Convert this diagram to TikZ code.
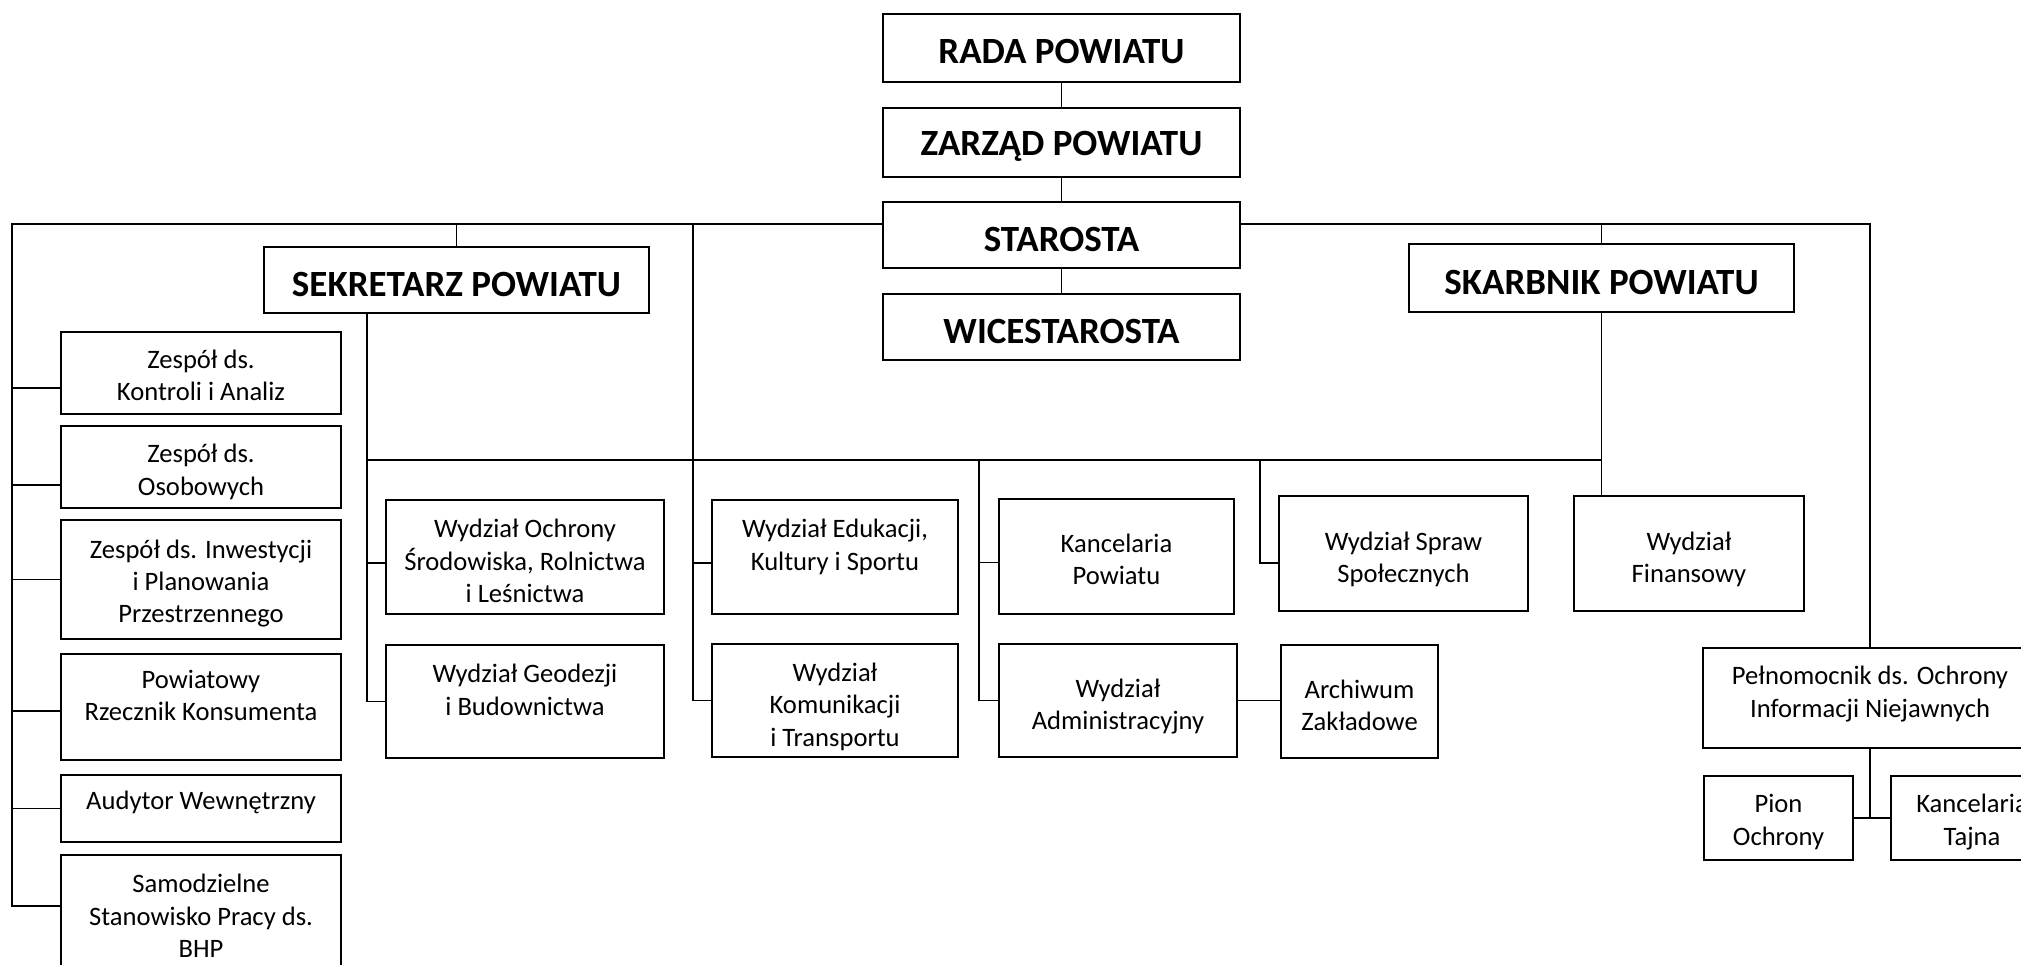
\documentclass[tikz,border=0pt]{standalone}
\usepackage{fontspec}
\setmainfont{Carlito}
% #1 kind (top/sub), #2 name, #3 x1, #4 y1, #5 x2, #6 y2, #7 text, #8 text shift
\newcommand{\bx}[8]{%
  \node[#1box, minimum width={(#5-#3)*0.5pt}, minimum height={(#6-#4)*0.5pt}] (#2) at ({(#3+#5)/2},{(#4+#6)/2}) {};
  \node[#1text, yshift=#8] (#2-t) at (#2.center) {#7};}
\begin{document}
\begin{tikzpicture}[x=0.5pt,y=-0.5pt,
  topbox/.style={draw, line width=1.4pt, inner sep=0pt, outer sep=0pt},
  toptext/.style={inner sep=0pt, font=\fontsize{18.5}{22}\selectfont\bfseries},
  subbox/.style={draw, line width=0.7pt, inner sep=0pt, outer sep=0pt},
  subtext/.style={inner sep=0pt, align=center, font=\fontsize{13.3}{16.2}\selectfont},
  conn/.style={line width=0.6pt}]
\useasboundingbox (0,0) rectangle (2021,964);
\clip (0,0) rectangle (2021,964);
% top column
\bx{top}{rada}{883}{14}{1240}{82}{RADA POWIATU}{-2pt}
\bx{top}{zarzad}{883}{108}{1240}{177}{ZARZĄD POWIATU}{-2pt}
\bx{top}{starosta}{883}{202}{1240}{268}{STAROSTA}{-2pt}
\bx{top}{wice}{883}{294}{1240}{360}{WICESTAROSTA}{-2pt}
\bx{top}{sekretarz}{264}{247}{649}{313}{SEKRETARZ POWIATU}{-2pt}
\bx{top}{skarbnik}{1409}{244}{1794}{312}{SKARBNIK POWIATU}{-2pt}
% left column
\bx{sub}{kontrola}{61}{332}{341}{414}{Zespół ds.\\Kontroli i Analiz}{-1.3pt}
\bx{sub}{osobowe}{61}{426}{341}{508}{Zespół ds.\\Osobowych}{-2.5pt}
\bx{sub}{inwest}{61}{520}{341}{639}{Zespół ds. Inwestycji\\i Planowania\\Przestrzennego}{-2pt}
\bx{sub}{rzecznik}{61}{654}{341}{760}{Powiatowy\\Rzecznik Konsumenta}{5.8pt}
\bx{sub}{audytor}{61}{775}{341}{842}{Audytor Wewnętrzny}{3pt}
\bx{sub}{bhp}{61}{855}{341}{977}{Samodzielne\\Stanowisko Pracy ds.\\BHP}{0pt}
% column 2
\bx{sub}{ochrona}{386}{500}{664}{614}{Wydział Ochrony\\Środowiska, Rolnictwa\\i Leśnictwa}{-2pt}
\bx{sub}{geodezja}{386}{645}{664}{758}{Wydział Geodezji\\i Budownictwa}{5.8pt}
% column 3
\bx{sub}{edukacja}{712}{500}{958}{614}{Wydział Edukacji,\\Kultury i Sportu}{5pt}
\bx{sub}{komunikacja}{712}{644}{958}{757}{Wydział\\Komunikacji\\i Transportu}{-3pt}
% column 4
\bx{sub}{kancelaria}{999}{499}{1234}{614}{Kancelaria\\Powiatu}{-1.5pt}
\bx{sub}{admin}{999}{644}{1237}{757}{Wydział\\Administracyjny}{-3pt}
\bx{sub}{archiwum}{1281}{645}{1438}{758}{Archiwum\\Zakładowe}{-2pt}
\bx{sub}{spraw}{1279}{496}{1528}{611}{Wydział Spraw\\Społecznych}{-3pt}
\bx{sub}{finansowy}{1574}{496}{1804}{611}{Wydział\\Finansowy}{-3pt}
\bx{sub}{pelnomocnik}{1703}{648}{2037}{748}{Pełnomocnik ds. Ochrony\\Informacji Niejawnych}{2pt}
\bx{sub}{pion}{1704}{776}{1853}{860}{Pion\\Ochrony}{-2pt}
\bx{sub}{tajna}{1891}{776}{2053}{860}{Kancelaria\\Tajna}{-2pt}
% connectors - top column
\draw[conn] (rada) -- (zarzad);
\draw[conn] (zarzad) -- (starosta);
\draw[conn] (starosta) -- (wice);
% left trunk
\coordinate (tl) at (12,224);
\coordinate (c1) at ([yshift=-7.5pt]kontrola.west);
\coordinate (c2) at ([yshift=-9pt]osobowe.west);
\coordinate (c3) at (inwest.west);
\coordinate (c4) at ([yshift=-2pt]rzecznik.west);
\coordinate (c5) at (audytor.west);
\coordinate (c6) at ([yshift=5pt]bhp.west);
\draw[conn] ([yshift=5.5pt]starosta.west) -- (tl) |- (c6);
\foreach \c in {c1,c2,c3,c4,c5} \draw[conn] (\c) -- (\c -| tl);
% sekretarz
\draw[conn] (sekretarz.north) -- (sekretarz.north |- tl);
\coordinate (s1) at (367,460);
\draw[conn] (s1 |- sekretarz.south) |- (geodezja.west);
\coordinate (o1) at ([yshift=-3pt]ochrona.west);
\draw[conn] (o1) -- (o1 -| s1);
% middle bus
\draw[conn] (s1) -- (s1 -| skarbnik.south);
\draw[conn] (skarbnik.south) -- (skarbnik.south |- finansowy.north);
% right bus
\coordinate (tr) at ([yshift=5.5pt]starosta.east);
\draw[conn] (tr) -| (pelnomocnik.north);
\draw[conn] (skarbnik.north) -- (skarbnik.north |- tr);
% column 3 trunk
\coordinate (v2) at (693,224);
\draw[conn] (v2) |- (komunikacja.west);
\coordinate (e1) at ([yshift=-3pt]edukacja.west);
\draw[conn] (e1) -- (e1 -| v2);
% column 4 trunk
\coordinate (v3) at (979,460);
\draw[conn] (v3) |- (admin.west);
\coordinate (k1) at ([yshift=-3pt]kancelaria.west);
\draw[conn] (k1) -- (k1 -| v3);
\draw[conn] (admin.east) -- (admin.east -| archiwum.west);
% spraw spolecznych
\coordinate (v4) at (1260,460);
\coordinate (sp1) at ([yshift=-4.75pt]spraw.west);
\draw[conn] (v4) |- (sp1);
% pelnomocnik
\draw[conn] (pelnomocnik.south) -- (pelnomocnik.south |- pion.east);
\draw[conn] (pion.east) -- (tajna.west);
\end{tikzpicture}
\end{document}
